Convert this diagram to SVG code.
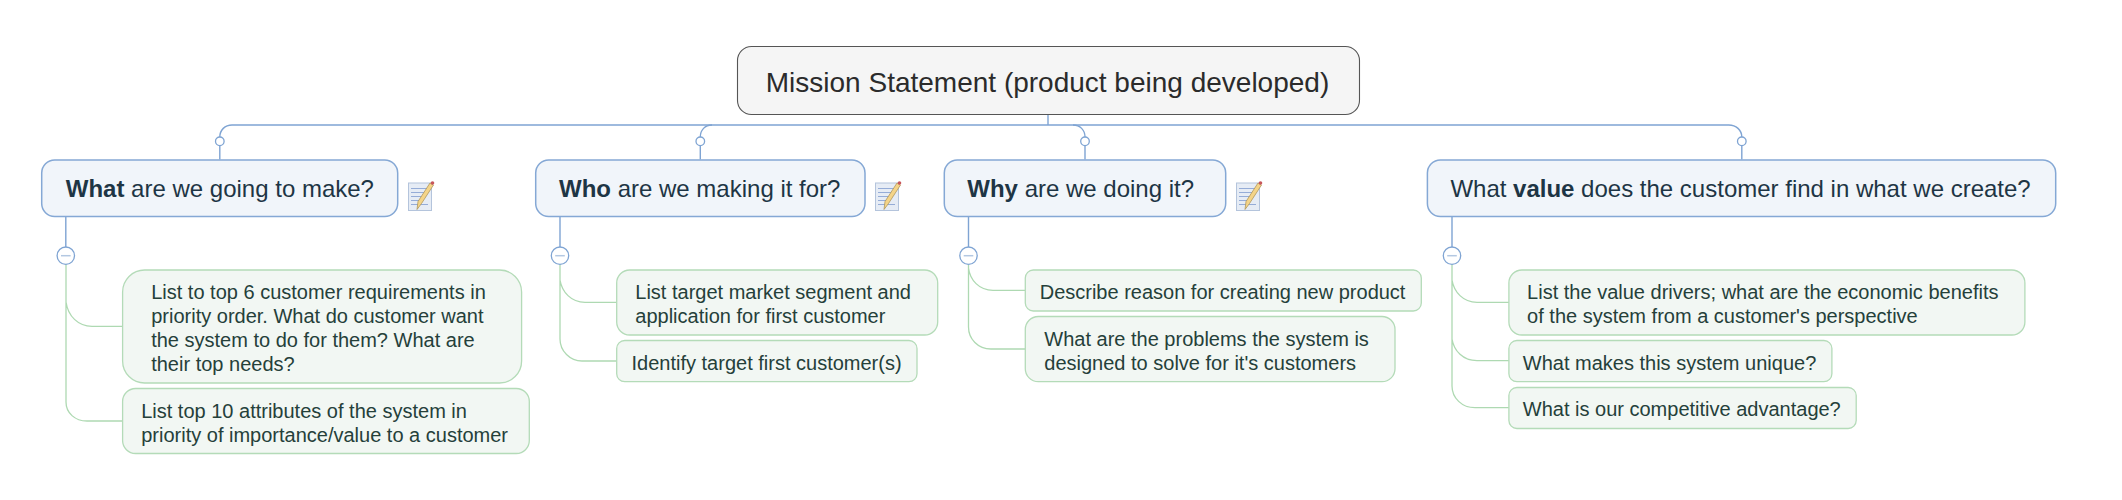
<svg xmlns="http://www.w3.org/2000/svg" width="2122" height="500" viewBox="0 0 2122 500">
<style>
text{font-family:"Liberation Sans",Arial,sans-serif}
.root{fill:#f5f5f5;stroke:#555;stroke-width:1.1}
.rt{font-size:28px;fill:#2b2b2b;text-anchor:middle}
.br{fill:#f1f5fa;stroke:#85a8d5;stroke-width:1.5}
.bt{font-size:24px;fill:#1e3545}
.lf{fill:#f2f7f3;stroke:#b4dbb8;stroke-width:1.3}
.lt{font-size:20px;fill:#25403a}
.blue{fill:none;stroke:#7fa4d3;stroke-width:1.4}
.green{fill:none;stroke:#aed9b2;stroke-width:1.3}
.hub{fill:#fff;stroke:#7fa4d3;stroke-width:1.3}
.dash{stroke:#b3c8e2;stroke-width:1.5}
.b{font-weight:bold}
</style>
<defs>
<g id="note">
<rect x="0.5" y="0.5" width="23" height="27.5" fill="#e6ecf5" stroke="#b4c4dc"/>
<path d="M3 6H20M3 10H20M3 14H18M3 18H15M3 22H20" stroke="#8ba5d4" stroke-width="0.9"/>
<path d="M9 27L10 19L22 0.5L25.500 2.500L13.500 21Z" fill="#f4d488" stroke="#a88e50" stroke-width="0.7"/>
<circle cx="24.500" cy="0.500" r="1.800" fill="#c8565a"/>
</g>
</defs>
<g id="connectors">
<path class="blue" d="M1048 114.500V125"/>
<path class="blue" d="M219.800 159.500V137C219.800 130 225 125 232 125H1728.800C1736 125 1741.800 130 1741.800 137V159.500"/>
<path class="blue" d="M700.300 137C700.300 130 705 125 712 125M1073 125C1080 125 1085 130 1085 137V159.500M700.300 137V159.500"/>
<path class="blue" d="M65.800 216.500V247M560 216.500V247M968.500 216.500V247M1452 216.500V247"/>
<path class="green" d="M66 264V402C66 413 75 421 87 421H122.600M66 302C68 316 78 326.300 92 326.300H122.600"/>
<path class="green" d="M560 264V339C560 351 570 361 582 361H616.700M560 280C562 292 571 302.300 585 302.300H616.700"/>
<path class="green" d="M968.500 264V327C968.500 339 978 349 991 349H1025.300M968.500 268C970 280 979 290.300 993 290.300H1025.300"/>
<path class="green" d="M1452 264V386C1452 398 1462 407.700 1475 407.700H1508.900M1452 280C1454 292 1463 302.300 1477 302.300H1508.900M1452 339C1454 351 1463 360.700 1477 360.700H1508.900"/>
<circle class="hub" cx="219.800" cy="141.300" r="4.300"/>
<circle class="hub" cx="700.300" cy="141.300" r="4.300"/>
<circle class="hub" cx="1085" cy="141.300" r="4.300"/>
<circle class="hub" cx="1741.800" cy="141.300" r="4.300"/>
</g>
<g id="root"><rect class="root" x="737.500" y="46.500" width="622" height="68" rx="14"/><text class="rt" x="1047.500" y="92">Mission Statement (product being developed)</text></g>
<g id="what"><rect class="br" x="41.700" y="160" width="356" height="56.500" rx="13"/><text class="bt" x="65.800" y="197"><tspan class="b">What</tspan> are we going to make?</text><use href="#note" x="408" y="182.500"/></g>
<g id="who"><rect class="br" x="535.700" y="160" width="329.300" height="56.500" rx="13"/><text class="bt" x="559" y="197"><tspan class="b">Who</tspan> are we making it for?</text><use href="#note" x="875" y="182.500"/></g>
<g id="why"><rect class="br" x="944.300" y="160" width="281.400" height="56.500" rx="13"/><text class="bt" x="967.300" y="197"><tspan class="b">Why</tspan> are we doing it?</text><use href="#note" x="1236" y="182.500"/></g>
<g id="value"><rect class="br" x="1427.400" y="160" width="628.300" height="56.500" rx="13"/><text class="bt" x="1450.400" y="197">What <tspan class="b">value</tspan> does the customer find in what we create?</text></g>
<g id="toggle-what"><circle class="hub" cx="65.800" cy="255.700" r="8.700"/><path class="dash" d="M61 255.700H70.600"/></g>
<g id="toggle-who"><circle class="hub" cx="560" cy="255.700" r="8.700"/><path class="dash" d="M555.200 255.700H564.800"/></g>
<g id="toggle-why"><circle class="hub" cx="968.500" cy="255.700" r="8.700"/><path class="dash" d="M963.700 255.700H973.300"/></g>
<g id="toggle-value"><circle class="hub" cx="1452" cy="255.700" r="8.700"/><path class="dash" d="M1447.200 255.700H1456.800"/></g>
<g id="what-1"><rect class="lf" x="122.600" y="270" width="399" height="113" rx="22"/><text class="lt" x="151.200" y="299">List to top 6 customer requirements in</text><text class="lt" x="151.200" y="323">priority order. What do customer want</text><text class="lt" x="151.200" y="347">the system to do for them? What are</text><text class="lt" x="151.200" y="371">their top needs?</text></g>
<g id="what-2"><rect class="lf" x="122.600" y="388.500" width="406.700" height="65" rx="13"/><text class="lt" x="141.200" y="418">List top 10 attributes of the system in</text><text class="lt" x="141.200" y="442">priority of importance/value to a customer</text></g>
<g id="who-1"><rect class="lf" x="616.700" y="270" width="321" height="65" rx="13"/><text class="lt" x="635.300" y="299">List target market segment and</text><text class="lt" x="635.300" y="323">application for first customer</text></g>
<g id="who-2"><rect class="lf" x="616.700" y="340.500" width="300.300" height="41.200" rx="8"/><text class="lt" x="631.500" y="370">Identify target first customer(s)</text></g>
<g id="why-1"><rect class="lf" x="1025.300" y="270" width="396" height="41" rx="8"/><text class="lt" x="1039.700" y="299">Describe reason for creating new product</text></g>
<g id="why-2"><rect class="lf" x="1025.300" y="316.500" width="369.700" height="65.200" rx="13"/><text class="lt" x="1044.300" y="346">What are the problems the system is</text><text class="lt" x="1044.300" y="370">designed to solve for it's customers</text></g>
<g id="value-1"><rect class="lf" x="1508.900" y="270" width="516" height="65" rx="13"/><text class="lt" x="1527.100" y="299">List the value drivers; what are the economic benefits</text><text class="lt" x="1527.100" y="323">of the system from a customer's perspective</text></g>
<g id="value-2"><rect class="lf" x="1508.900" y="340.500" width="323" height="41.200" rx="8"/><text class="lt" x="1522.800" y="370">What makes this system unique?</text></g>
<g id="value-3"><rect class="lf" x="1508.900" y="387.500" width="347.300" height="41" rx="8"/><text class="lt" x="1522.800" y="416">What is our competitive advantage?</text></g>
</svg>
